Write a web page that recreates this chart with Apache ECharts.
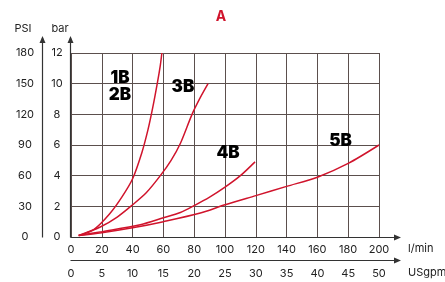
<!DOCTYPE html>
<html>
<head>
<meta charset="utf-8">
<script src="https://cdn.jsdelivr.net/npm/echarts@6/dist/echarts.min.js"></script>
<style>
html, body { margin: 0; padding: 0; background: #fff; }
#chart { width: 445px; height: 282px; }
</style>
</head>
<body>
<div id="chart"></div>
<script>
// flow in l/min, pressure in bar
var curve1B2B = [[5,0.1],[15,0.5],[25,1.5],[33,2.6],[40,3.8],[46,5.5],[50,7.0],[53,8.4],[56,10.0],[58,11.2],[59,12]];
var curve3B = [[5,0.1],[19,0.65],[30,1.3],[40,2.1],[49,2.9],[58,4.0],[65,5.0],[71,6.1],[78.6,8.0],[84,9.1],[89,10.0]];
var curve4B = [[5,0.1],[20,0.35],[45,0.8],[60,1.25],[71,1.6],[80,2.05],[90,2.6],[100,3.25],[110,4.0],[119.5,4.9]];
var curve5B = [[5,0.1],[20,0.28],[40,0.6],[60,1.0],[84,1.56],[100,2.1],[120,2.7],[140,3.3],[160,3.9],[180,4.8],[200,6.0]];

var labelNames = ['1B', '2B', '3B', '4B', '5B'];
var labelCoords = [[31.8,10.4],[31.8,9.3],[72.7,9.8],[102,5.5],[175,6.3]];

var psiTicks = [0, 30, 60, 90, 120, 150, 180];

var red = '#d0142c';
var gridCol = '#5b4f4d';
var txt = '#222';
var font = 'Inter, "Open Sans", sans-serif';

var chart = echarts.init(document.getElementById('chart'));

function curve(name, data) {
    return {
        name: name, type: 'line', data: data, smooth: 0.3,
        symbol: 'none', lineStyle: { color: red, width: 1.5 },
        xAxisIndex: 0, yAxisIndex: 0, z: 3
    };
}

var series = [
    curve('1B/2B', curve1B2B),
    curve('3B', curve3B),
    curve('4B', curve4B),
    curve('5B', curve5B)
];
// curve names put on chart via markPoint in data coords
series[0].markPoint = {
    symbol: 'circle', symbolSize: 0,
    label: { show: true, position: 'inside', formatter: function (p) { return p.name; },
        color: '#000', fontFamily: font, fontWeight: 900, fontSize: 17 },
    data: labelNames.map(function (n, i) { return { name: n, coord: labelCoords[i] }; })
};

chart.setOption({
    animation: false,
    grid: { left: 71, right: 66, top: 53, bottom: 45 },
    xAxis: [{
        type: 'value', min: 0, max: 200, interval: 20,
        axisLine: { show: false }, axisTick: { show: false },
        axisLabel: { margin: 7, color: txt, fontFamily: font, fontSize: 11 },
        splitLine: { show: true, lineStyle: { color: gridCol, width: 1 } }
    }, {
        type: 'value', min: 0, max: 50, interval: 5, position: 'bottom', offset: 23,
        axisLine: { show: false }, axisTick: { show: false },
        axisLabel: { margin: 8, color: txt, fontFamily: font, fontSize: 11 },
        splitLine: { show: false }
    }],
    yAxis: [{
        type: 'value', min: 0, max: 12, interval: 2,
        axisLine: { show: false }, axisTick: { show: false },
        axisLabel: { margin: 14, align: 'center', color: txt, fontFamily: font, fontSize: 11 },
        splitLine: { show: true, lineStyle: { color: gridCol, width: 1 } }
    }, {
        type: 'value', min: 0, max: 180, interval: 30, position: 'left', offset: 28,
        axisLine: { show: false }, axisTick: { show: false },
        axisLabel: { margin: 18, align: 'center', color: txt, fontFamily: font, fontSize: 11 },
        splitLine: { show: false }
    }],
    series: series
});

// axis lines with arrows, placed from the grid
var o = chart.convertToPixel({ gridIndex: 0 }, [0, 0]);
var e = chart.convertToPixel({ gridIndex: 0 }, [200, 12]);
var x0 = o[0] - 0.5, y0 = o[1] + 0.5, x1 = e[0], y1 = e[1];
var axCol = '#333';

function arrowUp(x, y) {
    return { type: 'polygon', shape: { points: [[x, y], [x - 3, y + 7], [x + 3, y + 7]] }, style: { fill: axCol } };
}
function arrowRight(x, y) {
    return { type: 'polygon', shape: { points: [[x, y], [x - 7, y - 3], [x - 7, y + 3]] }, style: { fill: axCol } };
}
function line(a, b, c, d) {
    return { type: 'line', shape: { x1: a, y1: b, x2: c, y2: d }, style: { stroke: axCol, lineWidth: 1.2 } };
}
function label(t, x, y, opts) {
    opts = opts || {};
    return { type: 'text', style: { text: t, x: x, y: y, textAlign: opts.align || 'center', textVerticalAlign: 'middle',
        fill: opts.color || txt, font: (opts.weight || 'normal') + ' ' + (opts.size || 11) + 'px ' + font } };
}

chart.setOption({
    graphic: [
        line(x0, y0, x0, y1 - 15), arrowUp(x0, y1 - 17),
        line(x0 - 28, y0, x0 - 28, y1 - 15), arrowUp(x0 - 28, y1 - 17),
        line(x0, y0, x1 + 20, y0), arrowRight(x1 + 22, y0),
        line(x0, y0 + 23, x1 + 20, y0 + 23), arrowRight(x1 + 22, y0 + 23),
        label('PSI', 23, 29), label('bar', 60, 29),
        label('l/min', 408, 249, { align: 'left' }),
        label('USgpm', 408, 273, { align: 'left' }),
        label('A', 221, 17, { color: red, weight: 'bold', size: 14 })
    ]
});
</script>
</body>
</html>
